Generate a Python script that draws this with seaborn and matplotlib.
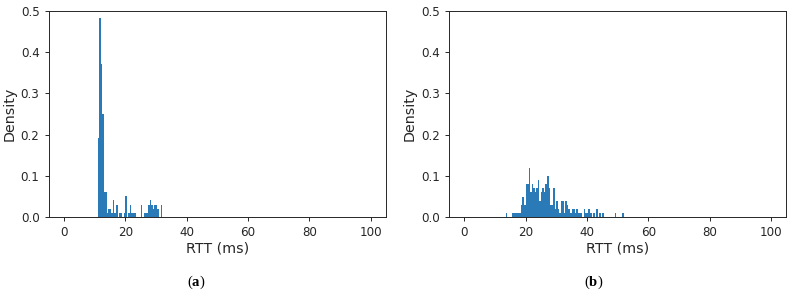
import numpy as np
import pandas as pd
import matplotlib
matplotlib.use("Agg")
import matplotlib.pyplot as plt
import seaborn as sns

sns.set_style("ticks")
plt.rcParams["mathtext.fontset"] = "custom"
plt.rcParams["mathtext.rm"] = "Liberation Serif"
plt.rcParams["mathtext.bf"] = "Liberation Serif:bold"

# bin left edges (ms) and sample counts per 0.5 ms bin
bins_a = [11.0, 11.5, 12.0, 12.5, 13.0, 13.5, 14.0, 14.5, 15.0, 15.5, 16.0, 16.5,
          17.0, 18.0, 18.5, 19.5, 20.0, 21.0, 21.5, 22.0, 22.5, 23.0, 25.0, 26.0,
          26.5, 27.0, 27.5, 28.0, 28.5, 29.0, 29.5, 30.0, 30.5, 31.5]
counts_a = [19, 48, 37, 25, 6, 6, 1, 2, 2, 1, 4, 1,
            3, 1, 1, 1, 5, 1, 3, 1, 1, 1, 3, 1,
            1, 1, 3, 4, 3, 2, 3, 3, 2, 3]

bins_b = [13.5, 15.5, 16.0, 16.5, 17.0, 17.5, 18.0, 18.5, 19.0, 19.5, 20.0, 20.5,
          21.0, 21.5, 22.0, 22.5, 23.0, 23.5, 24.0, 24.5, 25.0, 25.5, 26.0, 26.5,
          27.0, 27.5, 28.0, 28.5, 29.0, 29.5, 30.0, 30.5, 31.0, 31.5, 32.0, 32.5,
          33.0, 33.5, 34.0, 34.5, 35.0, 35.5, 36.0, 36.5, 37.0, 37.5, 38.0, 39.0,
          39.5, 40.0, 40.5, 41.0, 42.0, 43.0, 44.0, 45.0, 49.0, 51.5]
counts_b = [1, 1, 1, 1, 1, 1, 1, 3, 5, 3, 8, 8,
            12, 6, 8, 7, 6, 7, 9, 4, 6, 7, 6, 8,
            10, 7, 3, 3, 7, 2, 4, 2, 1, 4, 4, 1,
            4, 3, 2, 1, 2, 2, 1, 2, 1, 1, 1, 2,
            1, 1, 2, 1, 1, 2, 1, 1, 1, 1]

panels = [(bins_a, counts_a, "a"), (bins_b, counts_b, "b")]

fig = plt.figure(figsize=(7.93, 2.92), dpi=100)
lefts = [0.0612, 0.566]
caption_x = [0.247, 0.749]

for (b, c, tag), left, cx in zip(panels, lefts, caption_x):
    ax = fig.add_axes([left, 0.257, 0.4256, 0.705])
    df = pd.DataFrame({"rtt": np.array(b) + 0.25, "n": c})
    sns.histplot(data=df, x="rtt", weights="n", binwidth=0.5, binrange=(0, 100),
                 stat="density", ax=ax, color="#2a7ab8", alpha=1, linewidth=0)
    ax.set_xlim(-5, 105)
    ax.set_ylim(0, 0.5)
    ax.set_xticks([0, 20, 40, 60, 80, 100])
    ax.set_yticks([0.0, 0.1, 0.2, 0.3, 0.4, 0.5])
    ax.tick_params(labelsize=8.6, length=3, width=0.7, color="0.15")
    ax.set_xlabel("RTT (ms)", fontsize=10.3, labelpad=2)
    ax.set_ylabel("Density", fontsize=10.3, labelpad=3)
    for s in ax.spines.values():
        s.set_linewidth(0.7)
    fig.text(cx, 0.032, "(" + r"$\mathbf{" + tag + "}$" + ")", ha="center",
             va="center", fontsize=10.5, family="Liberation Serif", color="black")

fig.savefig("out.png", dpi=100)
